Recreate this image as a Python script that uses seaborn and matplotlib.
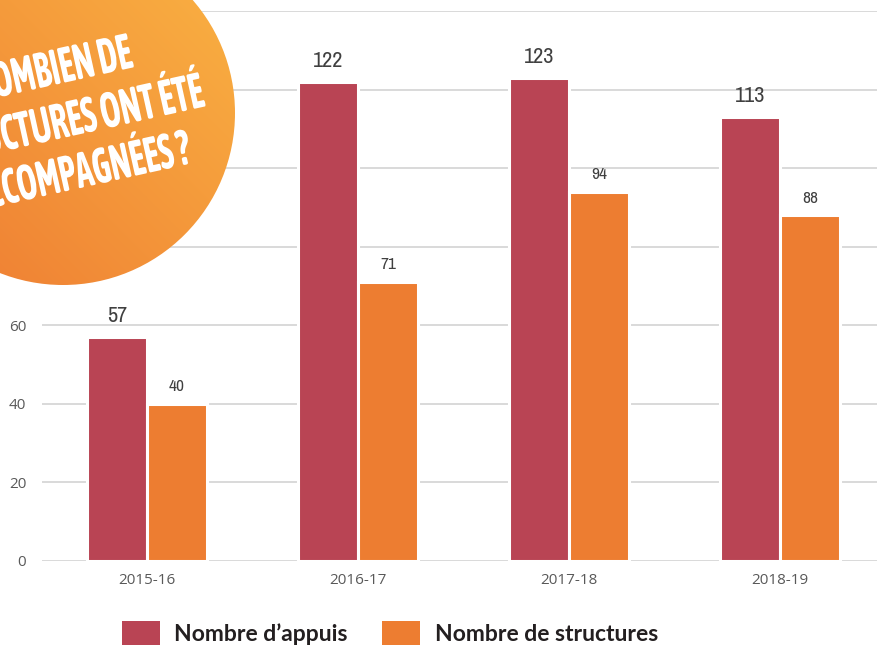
import numpy as np
import pandas as pd
import matplotlib
matplotlib.use('Agg')
import matplotlib.pyplot as plt
import seaborn as sns
from matplotlib.patches import Circle, Patch
from matplotlib.patheffects import AbstractPathEffect
from matplotlib.transforms import Affine2D

# data
years = ['2015-16', '2016-17', '2017-18', '2018-19']
appuis = [57, 122, 123, 113]
structures = [40, 71, 94, 88]
series = ['Nombre d\u2019appuis', 'Nombre de structures']
colors = ['#b94454', '#ed7d31']
yticks = [0, 20, 40, 60, 80, 100, 120, 140]
title_lines = ['COMBIEN DE', 'STRUCTURES ONT ÉTÉ', 'ACCOMPAGNÉES ?']

df = pd.DataFrame({
    'annee': years * 2,
    'valeur': appuis + structures,
    'serie': [series[0]] * len(years) + [series[1]] * len(years),
})


class Squeeze(AbstractPathEffect):
    # squeeze glyphs horizontally around the right end of the text (poster-like narrow font)
    def __init__(self, sx):
        super().__init__()
        self.sx = sx

    def draw_path(self, renderer, gc, tpath, affine, rgbFace=None):
        x1 = tpath.get_extents().x1
        pre = Affine2D().translate(-x1, 0).scale(self.sx, 1).translate(x1, 0)
        renderer.draw_path(gc, tpath, pre + affine, rgbFace)


sns.set_theme(style='white')
plt.rcParams['font.family'] = ['Open Sans', 'DejaVu Sans']
narrow = ['Archivo Narrow', 'Asap Condensed', 'DejaVu Sans']
condensed = ['Asap Condensed', 'Archivo Narrow', 'DejaVu Sans']

W, H = 877, 647
fig = plt.figure(figsize=(W / 100, H / 100), dpi=100)
ax = fig.add_axes([41.5 / W, 86 / H, 844 / W, 550 / H])

sns.barplot(data=df, x='annee', y='valeur', hue='serie', palette=colors,
            saturation=1, width=0.569, gap=0, edgecolor='white', linewidth=2.2,
            legend=False, ax=ax)

ax.set_ylim(0, 140)
ax.set_yticks(yticks)
ax.set_axisbelow(True)
ax.yaxis.grid(True, color='#d9d9d9', linewidth=1.4)
ax.tick_params(axis='y', length=0, pad=11, labelsize=11, labelcolor='#595959')
ax.tick_params(axis='x', length=0, pad=9, labelsize=11, labelcolor='#595959')
ax.set_xlabel('')
ax.set_ylabel('')
sns.despine(ax=ax, left=True, bottom=True)

# value labels
ax.bar_label(ax.containers[0], padding=8, color='#404040', fontsize=16, family=narrow)
ax.bar_label(ax.containers[1], padding=7, color='#404040', fontsize=12.5, family=narrow)

# legend
handles = [Patch(facecolor=c, edgecolor='none', label=s) for c, s in zip(colors, series)]
fig.legend(handles=handles, loc='center', bbox_to_anchor=(390 / W, (H - 633) / H),
           ncol=2, frameon=False, prop={'family': 'Lato', 'weight': 'bold', 'size': 16.5},
           labelcolor='#231f20', handlelength=1.65, handleheight=1.25,
           handletextpad=0.65, columnspacing=1.5, borderpad=0)

# orange circle badge with gradient
ov = fig.add_axes([0, 0, 1, 1], zorder=5)
ov.axis('off')
cx, cy, r = 63, 113, 172
gx = np.linspace(cx - r, cx + r, 200)
gy = np.linspace(cy - r, cy + r, 200)
GX, GY = np.meshgrid(gx, gy)
t = ((GX - (cx - r)) + ((cy + r) - GY)) / (4 * r)
c0 = np.array(matplotlib.colors.to_rgb('#ee7a32'))
c1 = np.array(matplotlib.colors.to_rgb('#fab443'))
img = c0 + (c1 - c0) * t[..., None]
im = ov.imshow(img, extent=(cx - r, cx + r, cy + r, cy - r), origin='upper',
               interpolation='bilinear', zorder=1)
circ = Circle((cx, cy), r, transform=ov.transData, facecolor='none', edgecolor='none')
ov.add_patch(circ)
im.set_clip_path(circ)
ov.set_xlim(0, W)
ov.set_ylim(H, 0)

anchors = [(135, 67), (207, 106), (193, 163)]
for line, (x, y) in zip(title_lines, anchors):
    ov.text(x, y, line, color='white', fontsize=36, fontweight='bold', family=condensed,
            rotation=12.5, rotation_mode='anchor', ha='right', va='baseline', zorder=3,
            path_effects=[Squeeze(0.69)])

fig.savefig('out.png', dpi=100)
